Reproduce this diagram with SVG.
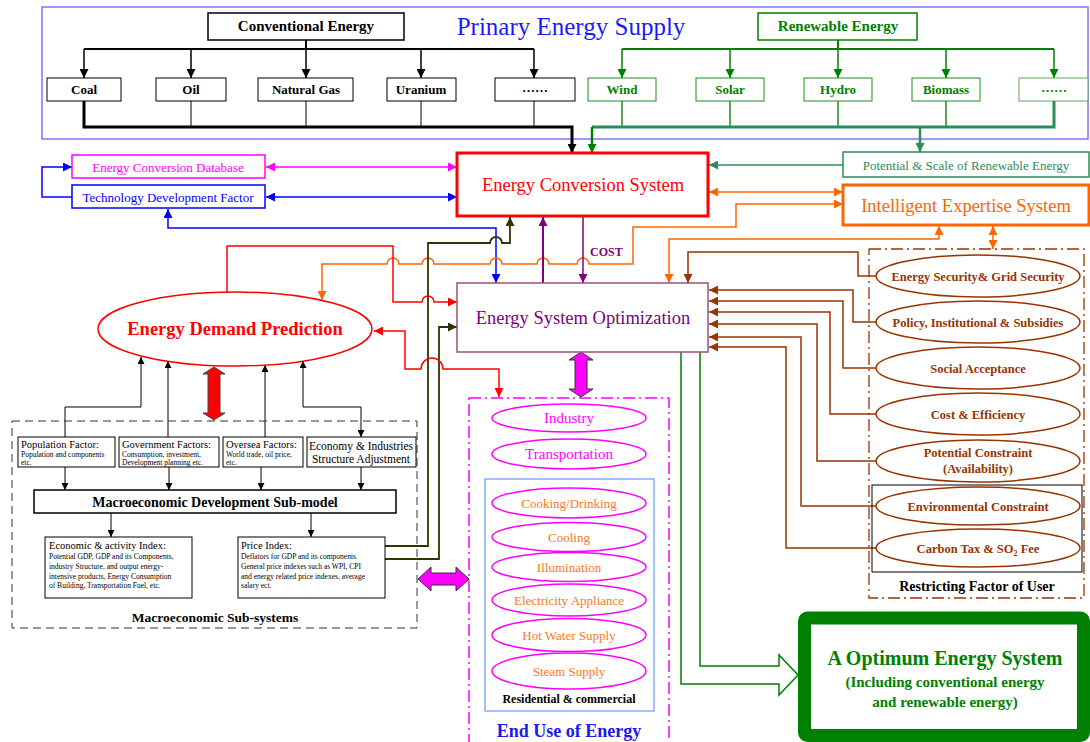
<svg xmlns="http://www.w3.org/2000/svg" width="1090" height="742" viewBox="0 0 1090 742">
<style>
text{font-family:"Liberation Serif","Times New Roman",serif}
.b{font-weight:bold}
.m{text-anchor:middle}
.ln{fill:none}
.box{fill:#fff}
</style>
<defs>
<marker id="aK" viewBox="0 0 10 10" refX="10" refY="5" markerWidth="11" markerHeight="9" markerUnits="userSpaceOnUse" orient="auto-start-reverse"><path d="M0,0L10,5L0,10z" fill="#000"/></marker>
<marker id="aKs" viewBox="0 0 10 10" refX="10" refY="5" markerWidth="8" markerHeight="7" markerUnits="userSpaceOnUse" orient="auto-start-reverse"><path d="M0,0L10,5L0,10z" fill="#000"/></marker>
<marker id="aG" viewBox="0 0 10 10" refX="10" refY="5" markerWidth="11" markerHeight="9" markerUnits="userSpaceOnUse" orient="auto-start-reverse"><path d="M0,0L10,5L0,10z" fill="#008000"/></marker>
<marker id="aSG" viewBox="0 0 10 10" refX="10" refY="5" markerWidth="11" markerHeight="9" markerUnits="userSpaceOnUse" orient="auto-start-reverse"><path d="M0,0L10,5L0,10z" fill="#2e8b57"/></marker>
<marker id="aR" viewBox="0 0 10 10" refX="10" refY="5" markerWidth="11" markerHeight="9" markerUnits="userSpaceOnUse" orient="auto-start-reverse"><path d="M0,0L10,5L0,10z" fill="#ff0000"/></marker>
<marker id="aM" viewBox="0 0 10 10" refX="10" refY="5" markerWidth="11" markerHeight="9" markerUnits="userSpaceOnUse" orient="auto-start-reverse"><path d="M0,0L10,5L0,10z" fill="#ff00ff"/></marker>
<marker id="aB" viewBox="0 0 10 10" refX="10" refY="5" markerWidth="11" markerHeight="9" markerUnits="userSpaceOnUse" orient="auto-start-reverse"><path d="M0,0L10,5L0,10z" fill="#0000ff"/></marker>
<marker id="aO" viewBox="0 0 10 10" refX="10" refY="5" markerWidth="11" markerHeight="9" markerUnits="userSpaceOnUse" orient="auto-start-reverse"><path d="M0,0L10,5L0,10z" fill="#ff6600"/></marker>
<marker id="aP" viewBox="0 0 10 10" refX="10" refY="5" markerWidth="11" markerHeight="9" markerUnits="userSpaceOnUse" orient="auto-start-reverse"><path d="M0,0L10,5L0,10z" fill="#800080"/></marker>
<marker id="aOL" viewBox="0 0 10 10" refX="10" refY="5" markerWidth="11" markerHeight="9" markerUnits="userSpaceOnUse" orient="auto-start-reverse"><path d="M0,0L10,5L0,10z" fill="#333300"/></marker>
<marker id="aBR" viewBox="0 0 10 10" refX="10" refY="5" markerWidth="11" markerHeight="9" markerUnits="userSpaceOnUse" orient="auto-start-reverse"><path d="M0,0L10,5L0,10z" fill="#993300"/></marker>
</defs>
<rect width="1090" height="742" fill="#fff"/>

<g id="primary-supply">
<rect x="42" y="7" width="1046" height="132" fill="none" stroke="#7777ff" stroke-width="1.5"/>
<text x="571" y="35" class="m" font-size="25" fill="#1a1aff">Prinary Energy Supply</text>
</g>

<g id="connectors" class="ln" fill="none">
<!-- conventional tree -->
<path d="M306,40V49M84,49H534" stroke="#000" stroke-width="2"/>
<g stroke="#000" stroke-width="1.5" marker-end="url(#aK)">
<path d="M84,49V78"/><path d="M191,49V78"/><path d="M306,49V78"/><path d="M421,49V78"/><path d="M534,49V78"/>
</g>
<path d="M191,101V127M306,101V127M421,101V127M534,101V127" stroke="#000" stroke-width="1"/>
<path d="M84,101V127H572V153" stroke="#000" stroke-width="3" marker-end="url(#aK)"/>
<!-- renewable tree -->
<path d="M838,40V49M622,49H1054" stroke="#008000" stroke-width="2"/>
<g stroke="#008000" stroke-width="1.5" marker-end="url(#aG)">
<path d="M622,49V78"/><path d="M730,49V78"/><path d="M838,49V78"/><path d="M946,49V78"/><path d="M1054,49V78"/>
</g>
<path d="M622,101V127M730,101V127M838,101V127M946,101V127" stroke="#228b22" stroke-width="1.5"/>
<path d="M1054,101V127H592" stroke="#2e8b57" stroke-width="3"/>
<path d="M592,127V153" stroke="#008000" stroke-width="2.5" marker-end="url(#aG)"/>
<path d="M920,127V152" stroke="#2e8b57" stroke-width="2.5" marker-end="url(#aSG)"/>
<!-- left boxes to ECS -->
<path d="M266,167H457" stroke="#ff00ff" stroke-width="1.5" marker-start="url(#aM)" marker-end="url(#aM)"/>
<path d="M266,197H457" stroke="#0000ff" stroke-width="1.5" marker-start="url(#aB)" marker-end="url(#aB)"/>
<path d="M72,197H42V167H72" stroke="#0000ff" stroke-width="1.5" marker-end="url(#aB)"/>
<path d="M168,209V228H496V283" stroke="#0000ff" stroke-width="1.5" marker-start="url(#aB)" marker-end="url(#aB)"/>
<!-- right boxes to ECS -->
<path d="M843,165H709" stroke="#2e8b57" stroke-width="1.5" marker-end="url(#aSG)"/>
<path d="M709,192H843" stroke="#ff6600" stroke-width="1.5" marker-start="url(#aO)" marker-end="url(#aO)"/>
<path d="M322,300V264H387a6,6 0 0 1 12,0H422a6,6 0 0 1 12,0H490a6,6 0 0 1 12,0H537a6,6 0 0 1 12,0H577a6,6 0 0 1 12,0H633V227H736V204H843" stroke="#ff6600" stroke-width="1.5" marker-start="url(#aO)" marker-end="url(#aO)"/>
<path d="M669,283V239H939V226" stroke="#ff6600" stroke-width="1.5" marker-start="url(#aO)" marker-end="url(#aO)"/>
<path d="M993,226V249" stroke="#ff6600" stroke-width="1.5" marker-start="url(#aO)" marker-end="url(#aO)"/>
<!-- ECS <-> ESO -->
<path d="M543,283V217" stroke="#800080" stroke-width="2" marker-end="url(#aP)"/>
<path d="M583,217V283" stroke="#800080" stroke-width="1.5" marker-end="url(#aP)"/>
<!-- olive -->
<path d="M385,546H428V243H490a6,6 0 0 1 12,0H510V217" stroke="#333300" stroke-width="1.8" marker-end="url(#aOL)"/>
<path d="M385,559H439V327H457" stroke="#333300" stroke-width="1.8" marker-end="url(#aOL)"/>
<!-- red -->
<path d="M227,292V246H393V302H422a6,6 0 0 1 12,0H457" stroke="#ff0000" stroke-width="1.5" marker-end="url(#aR)"/>
<path d="M374,331H405V369H421a11,11 0 0 1 22,0H499V397" stroke="#ff0000" stroke-width="1.5" marker-start="url(#aR)" marker-end="url(#aR)"/>
<!-- brown -->
<g stroke="#993300" stroke-width="1.5">
<path d="M876,276H858V252H688V283" marker-end="url(#aBR)"/>
<path d="M876,322H853V290H709" marker-end="url(#aBR)"/>
<path d="M876,368H843V301H709" marker-end="url(#aBR)"/>
<path d="M876,414H830V312H709" marker-end="url(#aBR)"/>
<path d="M876,461H817V324H709" marker-end="url(#aBR)"/>
<path d="M876,506H801V337H709" marker-end="url(#aBR)"/>
<path d="M876,548H786V347H709" marker-end="url(#aBR)"/>
</g>
<!-- green hollow arrow to optimum -->
<path d="M700,352V666H779V655L798,675L779,695V684H681V352" stroke="#008000" stroke-width="1.5" fill="none"/>
<!-- macro factor arrows -->
<g stroke="#000" stroke-width="1">
<path d="M65,437V407H141V357" marker-end="url(#aKs)"/>
<path d="M168,437V361" marker-end="url(#aKs)"/>
<path d="M265,437V365" marker-end="url(#aKs)"/>
<path d="M361,437V407H303V361" marker-start="url(#aKs)" marker-end="url(#aKs)"/>
</g>
<g stroke="#000" stroke-width="1" marker-end="url(#aKs)">
<path d="M65,467V490"/><path d="M169,467V490"/><path d="M261,467V490"/><path d="M361,467V490"/><path d="M111,513V537"/><path d="M311,513V537"/>
</g>
<!-- block arrows -->
<path d="M214,367L225,374H220V413H225L214,420L203,413H208V374H203Z" fill="#ff0000" stroke="#444" stroke-width="1"/>
<path d="M581,352L593,360H587V389H593L581,397L569,389H575V360H569Z" fill="#ff00ff" stroke="#333" stroke-width="1"/>
<path d="M418,579L431,567V573H456V567L469,579L456,591V585H431V591Z" fill="#ff00ff" stroke="#333" stroke-width="1"/>
</g>

<g id="conventional-energy"><rect x="208" y="13" width="196" height="27" class="box" stroke="#000" stroke-width="1.5"/><text x="306" y="31" class="m b" font-size="15">Conventional Energy</text></g>
<g id="coal"><rect x="47" y="78" width="74" height="23" class="box" stroke="#000"/><text x="84" y="94" class="m b" font-size="13">Coal</text></g>
<g id="oil"><rect x="156" y="78" width="70" height="23" class="box" stroke="#000"/><text x="191" y="94" class="m b" font-size="13">Oil</text></g>
<g id="natural-gas"><rect x="258" y="78" width="95" height="23" class="box" stroke="#000"/><text x="306" y="94" class="m b" font-size="13">Natural Gas</text></g>
<g id="uranium"><rect x="387" y="78" width="69" height="23" class="box" stroke="#000"/><text x="421" y="94" class="m b" font-size="13">Uranium</text></g>
<g id="conv-more"><rect x="495" y="78" width="80" height="23" class="box" stroke="#000"/><text x="535" y="92" class="m b" font-size="13">……</text></g>

<g id="renewable-energy"><rect x="758" y="13" width="159" height="27" class="box" stroke="#008000" stroke-width="1.5"/><text x="838" y="31" class="m b" font-size="15" fill="#008000">Renewable Energy</text></g>
<g id="wind"><rect x="588" y="78" width="68" height="23" class="box" stroke="#228b22"/><text x="622" y="94" class="m b" font-size="13" fill="#008000">Wind</text></g>
<g id="solar"><rect x="696" y="78" width="68" height="23" class="box" stroke="#228b22"/><text x="730" y="94" class="m b" font-size="13" fill="#008000">Solar</text></g>
<g id="hydro"><rect x="804" y="78" width="68" height="23" class="box" stroke="#228b22"/><text x="838" y="94" class="m b" font-size="13" fill="#008000">Hydro</text></g>
<g id="biomass"><rect x="912" y="78" width="68" height="23" class="box" stroke="#228b22"/><text x="946" y="94" class="m b" font-size="13" fill="#008000">Biomass</text></g>
<g id="ren-more"><rect x="1019" y="78" width="69" height="23" class="box" stroke="#5aaa5a"/><text x="1054" y="92" class="m b" font-size="13" fill="#008000">……</text></g>

<g id="energy-conversion-database"><rect x="72" y="155" width="193" height="23" class="box" stroke="#ff00ff" stroke-width="1.5"/><text x="168" y="172" class="m" font-size="13" fill="#ff00ff">Energy Conversion Database</text></g>
<g id="technology-development-factor"><rect x="72" y="185" width="193" height="23" class="box" stroke="#0000ff" stroke-width="1.5"/><text x="168" y="202" class="m" font-size="13" fill="#0000ff">Technology Development Factor</text></g>

<g id="energy-conversion-system"><rect x="457" y="153" width="251" height="63" class="box" stroke="#ff0000" stroke-width="3"/><text x="583" y="191" class="m" font-size="18.5" fill="#ff0000">Energy Conversion System</text></g>
<g id="potential-scale"><rect x="843" y="152" width="246" height="25" class="box" stroke="#2e8b57" stroke-width="1.5"/><text x="966" y="170" class="m" font-size="13" fill="#2e8b57">Potential &amp; Scale of Renewable Energy</text></g>
<g id="intelligent-expertise-system"><rect x="843" y="185" width="246" height="40" class="box" stroke="#ff6600" stroke-width="3"/><text x="966" y="212" class="m" font-size="18.5" fill="#ff6600">Intelligent Expertise System</text></g>

<g id="cost-label"><text x="590" y="256" class="b" font-size="12" fill="#800080">COST</text></g>

<g id="energy-system-optimization"><rect x="457" y="283" width="251" height="69" class="box" stroke="#a0507a" stroke-width="1.5"/><text x="583" y="324" class="m" font-size="18.5" fill="#800080">Energy System Optimization</text></g>

<g id="energy-demand-prediction"><ellipse cx="235" cy="329" rx="137" ry="37" class="box" stroke="#ff0000" stroke-width="1.5"/><text x="235" y="335" class="m b" font-size="18.5" fill="#ff0000">Energy Demand Prediction</text></g>

<g id="macroeconomic-sub-systems">
<rect x="12" y="421" width="405" height="207" fill="none" stroke="#333" stroke-width="1" stroke-dasharray="8,5"/>
<text x="215" y="622" class="m b" font-size="13.5">Macroeconomic Sub-systems</text>
</g>
<g id="population-factor"><rect x="18" y="437" width="97" height="30" class="box" stroke="#000"/><text x="21" y="448" font-size="10.5">Population Factor:</text><text x="21" y="457" font-size="7.5">Population and components</text><text x="21" y="465" font-size="7.5">etc.</text></g>
<g id="government-factors"><rect x="119" y="437" width="100" height="30" class="box" stroke="#000"/><text x="122" y="448" font-size="10.5">Government Factors:</text><text x="122" y="457" font-size="7.5">Consumption, investment,</text><text x="122" y="465" font-size="7.5">Development planning  etc.</text></g>
<g id="oversea-factors"><rect x="223" y="437" width="80" height="30" class="box" stroke="#000"/><text x="226" y="448" font-size="10.5">Oversea Factors:</text><text x="226" y="457" font-size="7.5">World trade, oil price,</text><text x="226" y="465" font-size="7.5">etc.</text></g>
<g id="economy-industries"><rect x="307" y="437" width="109" height="30" class="box" stroke="#000"/><text x="361" y="450" class="m" font-size="11.5">Economy  &amp; Industries</text><text x="361" y="463" class="m" font-size="11.5">Structure Adjustment</text></g>
<g id="macro-development-sub-model"><rect x="34" y="490" width="362" height="23" class="box" stroke="#000" stroke-width="1.5"/><text x="215" y="507" class="m b" font-size="14">Macroeconomic Development Sub-model</text></g>
<g id="economic-activity-index"><rect x="45" y="537" width="147" height="61" class="box" stroke="#000"/><text x="49" y="549" font-size="10.5">Economic &amp; activity Index:</text><text x="49" y="559" font-size="7.5">Potential GDP, GDP and its Components,</text><text x="49" y="569" font-size="7.5">industry Structure, and output energy-</text><text x="49" y="578.5" font-size="7.5">intensive products,  Energy Consumption</text><text x="49" y="588" font-size="7.5">of Building, Transportation Fuel, etc.</text></g>
<g id="price-index"><rect x="238" y="537" width="147" height="61" class="box" stroke="#000"/><text x="241" y="549" font-size="10.5">Price Index:</text><text x="241" y="559" font-size="7.5">Deflators for GDP and its components.</text><text x="241" y="569" font-size="7.5">General price indexes such as WPI, CPI</text><text x="241" y="578.5" font-size="7.5">and energy related price indexes, average</text><text x="241" y="588" font-size="7.5">salary ect.</text></g>

<g id="end-use-of-energy">
<rect x="469" y="398" width="200" height="370" fill="none" stroke="#ff00ff" stroke-width="1.5" stroke-dasharray="12,4,2,4"/>
<text x="569" y="737" class="m b" font-size="18" fill="#1a1aee">End Use of  Energy</text>
</g>
<g id="industry"><ellipse cx="569" cy="418" rx="77" ry="14" class="box" stroke="#ff00ff" stroke-width="1.5"/><text x="569" y="423" class="m" font-size="15" fill="#ff00ff">Industry</text></g>
<g id="transportation"><ellipse cx="569" cy="454" rx="77" ry="15" class="box" stroke="#ff00ff" stroke-width="1.5"/><text x="569" y="459" class="m" font-size="15" fill="#ff00ff">Transportation</text></g>
<g id="residential-commercial"><rect x="485" y="479" width="169" height="232" fill="none" stroke="#6699ff" stroke-width="1.2"/><text x="569" y="703" class="m b" font-size="12">Residential &amp; commercial</text></g>
<g id="cooking"><ellipse cx="569" cy="503" rx="77" ry="15" class="box" stroke="#ff00ff" stroke-width="1.5"/><text x="569" y="508" class="m" font-size="13" fill="#ff7722">Cooking/Drinking</text></g>
<g id="cooling"><ellipse cx="569" cy="537" rx="77" ry="14.5" class="box" stroke="#ff00ff" stroke-width="1.5"/><text x="569" y="542" class="m" font-size="13" fill="#ff7722">Cooling</text></g>
<g id="illumination"><ellipse cx="569" cy="567" rx="77" ry="14.5" class="box" stroke="#ff00ff" stroke-width="1.5"/><text x="569" y="572" class="m" font-size="13" fill="#ff7722">Illumination</text></g>
<g id="electricity-appliance"><ellipse cx="569" cy="600" rx="77" ry="16" class="box" stroke="#ff00ff" stroke-width="1.5"/><text x="569" y="605" class="m" font-size="13" fill="#ff7722">Electricity Appliance</text></g>
<g id="hot-water-supply"><ellipse cx="569" cy="635" rx="77" ry="16.5" class="box" stroke="#ff00ff" stroke-width="1.5"/><text x="569" y="640" class="m" font-size="13" fill="#ff7722">Hot Water Supply</text></g>
<g id="steam-supply"><ellipse cx="569" cy="671" rx="77" ry="18" class="box" stroke="#ff00ff" stroke-width="1.5"/><text x="569" y="676" class="m" font-size="13" fill="#ff7722">Steam Supply</text></g>

<g id="restricting-factor-of-user">
<rect x="869" y="249" width="215" height="349" fill="none" stroke="#993300" stroke-width="1.3" stroke-dasharray="12,4,2,4"/>
<rect x="872" y="485" width="210" height="87" fill="none" stroke="#000" stroke-width="1"/>
<text x="977" y="591" class="m b" font-size="14">Restricting Factor of User</text>
</g>
<g id="energy-security"><ellipse cx="978" cy="276" rx="102" ry="21" class="box" stroke="#993300" stroke-width="1.5"/><text x="978" y="281" class="m b" font-size="12.5" fill="#993300">Energy Security&amp; Grid Security</text></g>
<g id="policy"><ellipse cx="978" cy="322" rx="102" ry="21" class="box" stroke="#993300" stroke-width="1.5"/><text x="978" y="327" class="m b" font-size="12.5" fill="#993300">Policy, Institutional &amp; Subsidies</text></g>
<g id="social-acceptance"><ellipse cx="978" cy="368" rx="102" ry="21" class="box" stroke="#993300" stroke-width="1.5"/><text x="978" y="373" class="m b" font-size="12.5" fill="#993300">Social Acceptance</text></g>
<g id="cost-efficiency"><ellipse cx="978" cy="414" rx="102" ry="21" class="box" stroke="#993300" stroke-width="1.5"/><text x="978" y="419" class="m b" font-size="12.5" fill="#993300">Cost &amp; Efficiency</text></g>
<g id="potential-constraint"><ellipse cx="978" cy="461" rx="102" ry="21" class="box" stroke="#993300" stroke-width="1.5"/><text x="978" y="457" class="m b" font-size="12.5" fill="#993300">Potential Constraint</text><text x="978" y="473" class="m b" font-size="12.5" fill="#993300">(Availability)</text></g>
<g id="environmental-constraint"><ellipse cx="978" cy="506" rx="102" ry="19" class="box" stroke="#993300" stroke-width="1.5"/><text x="978" y="511" class="m b" font-size="12.5" fill="#993300">Environmental Constraint</text></g>
<g id="carbon-tax"><ellipse cx="978" cy="548" rx="102" ry="19" class="box" stroke="#993300" stroke-width="1.5"/><text x="978" y="553" class="m b" font-size="12.5" fill="#993300">Carbon Tax  &amp; SO<tspan font-size="8" dy="3">2</tspan><tspan dy="-3"> Fee</tspan></text></g>

<g id="optimum-energy-system">
<rect x="804.5" y="618" width="279" height="117.5" rx="3" fill="#fff" stroke="#008000" stroke-width="13"/>
<text x="945" y="665" class="m b" font-size="20" fill="#008000">A Optimum Energy System</text>
<text x="945" y="687" class="m b" font-size="15" fill="#008000">(Including conventional energy</text>
<text x="945" y="707" class="m b" font-size="15" fill="#008000">and renewable energy)</text>
</g>
</svg>
